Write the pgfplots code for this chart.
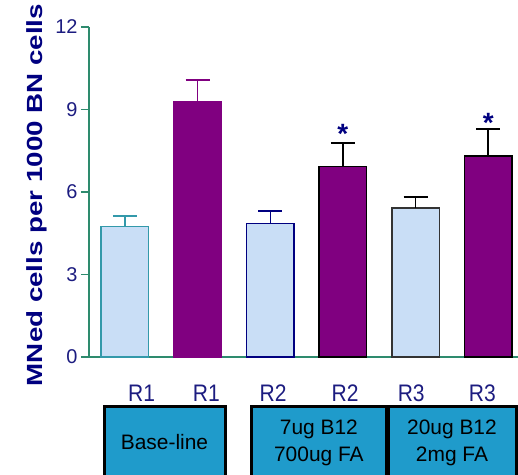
\documentclass[border=0pt]{standalone}
\usepackage{pgfplots}
\pgfplotsset{compat=1.18}
\usepackage{fontspec}
\setmainfont{Liberation Sans}
\definecolor{lb}{HTML}{C9DEF6}
\definecolor{pur}{HTML}{800080}
\definecolor{tealc}{HTML}{3399AA}
\definecolor{navyc}{HTML}{000080}
\definecolor{axc}{HTML}{2E8B6E}
\definecolor{tickc}{HTML}{1C1C80}
\definecolor{boxc}{HTML}{1F9BCB}
\begin{document}
\begin{tikzpicture}
\begin{axis}[
  name=ax, at={(0,0)}, anchor=south west, scale only axis,
  width=429bp, height=330bp,
  xmin=-0.495, xmax=5.41, ymin=0, ymax=12,
  axis x line*=bottom, axis y line*=left,
  axis line style={draw=axc, line width=1.2bp},
  ytick={0,3,6,9,12},
  tick align=outside, major tick length=8bp,
  y tick style={draw=axc, line width=1.2bp},
  x tick style={draw=none},
  xtick={0.23,1.12,2.04,3.03,3.94,4.92},
  xticklabels={R1,R1,R2,R2,R3,R3},
  xticklabel style={anchor=center, yshift=-28bp, text=tickc, font=\fontsize{24}{24}\selectfont, xscale=0.88},
  yticklabel style={text=tickc, font=\fontsize{20}{20}\selectfont},
  /pgf/number format/assume math mode=true,
  clip=false,
]
\addplot[ybar, bar shift=0pt, bar width=47.5bp, fill=lb, draw=tealc, line width=1.5bp,
  error bars/.cd, y dir=plus, y explicit,
  error bar style={line width=1.5bp, draw=tealc},
  error mark options={rotate=90, mark size=12bp, line width=2bp, draw=tealc}]
  coordinates {(0,4.74) +- (0,0.40)};
\addplot[ybar, bar shift=0pt, bar width=47.5bp, fill=pur, draw=pur, line width=1.5bp,
  error bars/.cd, y dir=plus, y explicit,
  error bar style={line width=1.5bp, draw=pur},
  error mark options={rotate=90, mark size=12bp, line width=2bp, draw=pur}]
  coordinates {(1,9.28) +- (0,0.79)};
\addplot[ybar, bar shift=0pt, bar width=47.5bp, fill=lb, draw=navyc, line width=1.5bp,
  error bars/.cd, y dir=plus, y explicit,
  error bar style={line width=1.5bp, draw=navyc},
  error mark options={rotate=90, mark size=12bp, line width=2bp, draw=navyc}]
  coordinates {(2,4.85) +- (0,0.47)};
\addplot[ybar, bar shift=0pt, bar width=47.5bp, fill=pur, draw=black, line width=1.5bp,
  error bars/.cd, y dir=plus, y explicit,
  error bar style={line width=1.5bp, draw=black},
  error mark options={rotate=90, mark size=12bp, line width=2bp, draw=black}]
  coordinates {(3,6.92) +- (0,0.87)};
\addplot[ybar, bar shift=0pt, bar width=47.5bp, fill=lb, draw=black!80, line width=1.5bp,
  error bars/.cd, y dir=plus, y explicit,
  error bar style={line width=1.5bp, draw=black},
  error mark options={rotate=90, mark size=12bp, line width=2bp, draw=black}]
  coordinates {(4,5.41) +- (0,0.42)};
\addplot[ybar, bar shift=0pt, bar width=47.5bp, fill=pur, draw=black, line width=1.5bp,
  error bars/.cd, y dir=plus, y explicit,
  error bar style={line width=1.5bp, draw=black},
  error mark options={rotate=90, mark size=12bp, line width=2bp, draw=black}]
  coordinates {(5,7.31) +- (0,0.98)};
\addplot[draw=none, mark=none, nodes near coords={\textbf{*}},
  nodes near coords style={anchor=center, text=navyc, font=\fontsize{28}{28}\selectfont}]
  coordinates {(3,8.1) (5,8.5)};
\end{axis}
\node[rotate=90, anchor=base, text=navyc, font=\bfseries\fontsize{22}{22}\selectfont]
  at (-46bp,162bp) {\scalebox{1.265}[1]{MNed cells per 1000 BN cells}};
\begin{scope}[line width=3bp, draw=black, fill=boxc]
  \filldraw (15bp,-49bp) rectangle (136bp,-130bp);
  \filldraw (162.7bp,-49bp) rectangle (297bp,-130bp);
  \filldraw (299bp,-49bp) rectangle (427bp,-130bp);
\end{scope}
\begin{scope}[font=\fontsize{21}{21}\selectfont]
  \node at (75.5bp,-85bp) {Base-line};
  \node at (229.9bp,-72bp) {7ug B12};
  \node at (229.9bp,-99bp) {700ug FA};
  \node at (363bp,-72bp) {20ug B12};
  \node at (363bp,-99bp) {2mg FA};
\end{scope}
\pgfresetboundingbox
\path[use as bounding box] (-89bp,-118bp) rectangle (429bp,357bp);
\end{tikzpicture}
\end{document}
